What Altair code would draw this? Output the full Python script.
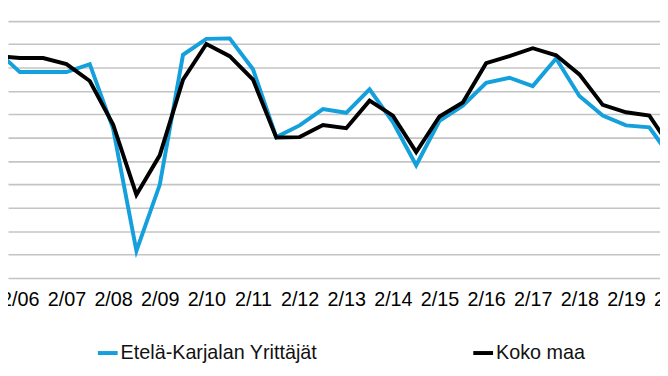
import altair as alt
import pandas as pd

# half-year periods, index -1 .. 28 (index 0 = 2/06)
periods = ["8/05", "2/06", "8/06", "2/07", "8/07", "2/08", "8/08", "2/09", "8/09",
           "2/10", "8/10", "2/11", "8/11", "2/12", "8/12", "2/13", "8/13", "2/14",
           "8/14", "2/15", "8/15", "2/16", "8/16", "2/17", "8/17", "2/18", "8/18",
           "2/19", "8/19", "2/20"]
period_index = list(range(-1, 29))

etela_karjala = [18.6, 14.0, 14.0, 14.0, 15.7, 1.9, -24.2, -10.1, 17.7, 21.1,
                 21.2, 14.6, 0.1, 2.6, 6.1, 5.3, 10.3, 3.3, -5.9, 3.6,
                 6.8, 11.7, 12.8, 11.0, 16.9, 8.9, 4.7, 2.6, 2.2, -4.8]
koko_maa = [17.4, 17.0, 17.0, 15.7, 12.1, 2.8, -12.2, -3.8, 12.4, 20.0,
            17.4, 12.4, 0.0, 0.1, 2.7, 2.0, 7.9, 4.7, -3.1, 4.5,
            7.5, 15.9, 17.4, 19.1, 17.6, 13.5, 7.0, 5.4, 4.7, -2.7]

series_names = ["Etelä-Karjalan Yrittäjät", "Koko maa"]
series_colors = ["#14a0dc", "#000000"]

tick_labels = ["2/06", "2/07", "2/08", "2/09", "2/10", "2/11", "2/12", "2/13",
               "2/14", "2/15", "2/16", "2/17", "2/18", "2/19", "2/20"]
tick_positions = [0, 2, 4, 6, 8, 10, 12, 14, 16, 18, 20, 22, 24, 26, 28]

rows = []
for name, vals in zip(series_names, [etela_karjala, koko_maa]):
    for j, p, v in zip(period_index, periods, vals):
        rows.append({"j": j, "period": p, "series": name, "value": v})
df = pd.DataFrame(rows)

label_expr = "[" + ",".join(f"'{t}'" for t in tick_labels) + "][datum.value/2]"
FONT = "Liberation Sans"

chart = alt.Chart(df).mark_line(strokeWidth=4, clip=True).encode(
    x=alt.X("j:Q",
            scale=alt.Scale(domain=[-0.508, 28.305], nice=False, zero=False),
            axis=alt.Axis(values=tick_positions, labelExpr=label_expr, grid=False,
                          domain=False, ticks=False, labelFont=FONT, labelFontSize=20,
                          labelColor="#000000", labelPadding=12, labelFlush=False,
                          labelOverlap=False, labelBound=False, title=None)),
    y=alt.Y("value:Q",
            scale=alt.Scale(domain=[-30, 27.22], nice=False, zero=False),
            axis=alt.Axis(values=list(range(-30, 30, 5)), labels=False, ticks=False,
                          domain=False, grid=True, gridColor="#c4c4c4", gridWidth=1.6,
                          title=None)),
    color=alt.Color("series:N",
                    scale=alt.Scale(domain=series_names, range=series_colors),
                    legend=alt.Legend(orient="none", legendX=89, legendY=335,
                                      direction="horizontal", title=None,
                                      symbolType="stroke", symbolSize=400,
                                      symbolStrokeWidth=4, labelFontSize=20,
                                      labelFont=FONT, labelColor="#111111",
                                      labelLimit=0,
                                      columnPadding=150, labelOffset=1, padding=0)),
    order=alt.Order("j:Q"),
).properties(
    width=680, height=271,
    autosize=alt.AutoSizeParams(type="none"),
    padding={"left": 0, "top": 0, "right": -20, "bottom": 97},
).configure_view(stroke=None)

chart.save("out.html", embed_options={"renderer": "svg", "actions": False})
